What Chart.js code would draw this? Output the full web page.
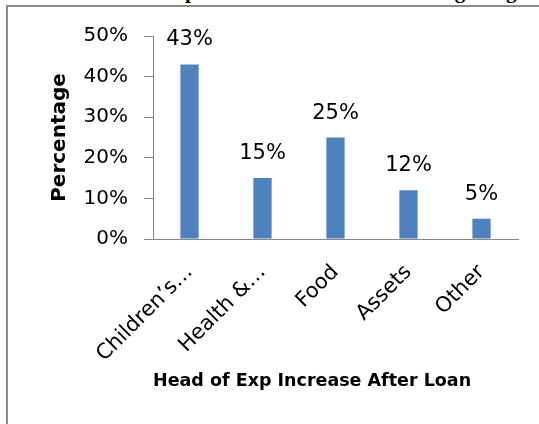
<!DOCTYPE html>
<html>
<head>
<meta charset="utf-8">
<script src="https://cdn.jsdelivr.net/npm/chart.js@4/dist/chart.umd.min.js"></script>
<style>
  html, body { margin: 0; padding: 0; background: #fff; }
  #wrap { position: relative; width: 539px; height: 424px; overflow: hidden; }
  #heading { position: absolute; left: 0; top: 0; width: 539px; height: 5px; overflow: hidden; }
  #heading span {
    position: absolute; left: 20px; top: -19px; white-space: nowrap;
    font: bold 21px "Liberation Serif"; line-height: 20px; color: #000;
  }
  #frame { position: absolute; left: 6px; top: 5px; width: 600px; height: 500px;
    border-left: 2px solid #8a8a8a; border-top: 2px solid #8a8a8a; }
  #chart { position: absolute; left: 0; top: 0; }
</style>
</head>
<body>
<div id="wrap">
  <div id="heading"><span>Which Head of Exp of borrower Increased after getting Loan</span></div>
  <div id="frame"></div>
  <canvas id="chart" width="539" height="424"></canvas>
</div>
<script>
// share of borrowers per expense head (%)
const heads = ['Children’s…', 'Health &…', 'Food', 'Assets', 'Other'];
const shares = [43, 15, 25, 12, 5];
const yTicks = [0, 10, 20, 30, 40, 50];

const axisGray = '#868686';

// value text above each bar
const valueLabels = {
  id: 'valueLabels',
  afterDatasetsDraw(chart) {
    const ctx = chart.ctx;
    const meta = chart.getDatasetMeta(0);
    ctx.save();
    ctx.font = '21px "DejaVu Sans"';
    ctx.fillStyle = '#000';
    ctx.textAlign = 'center';
    ctx.textBaseline = 'alphabetic';
    meta.data.forEach((bar, i) => {
      ctx.fillText(shares[i] + '%', bar.x, bar.y - 19);
    });
    ctx.restore();
  }
};

new Chart(document.getElementById('chart'), {
  type: 'bar',
  data: {
    labels: heads,
    datasets: [{
      data: shares,
      backgroundColor: '#4F81BD',
      borderWidth: 0,
      barPercentage: 0.5,
      categoryPercentage: 0.5
    }]
  },
  options: {
    responsive: false,
    animation: false,
    layout: { padding: { top: 36, right: 21, bottom: 0, left: 0 } },
    plugins: {
      legend: { display: false },
      tooltip: { enabled: false }
    },
    scales: {
      x: {
        afterFit(scale) { scale.height = 185; },
        grid: { display: false, drawTicks: false },
        border: { display: true, color: axisGray, width: 1 },
        ticks: {
          color: '#000',
          font: { family: 'DejaVu Sans', size: 21 },
          minRotation: 45,
          maxRotation: 45,
          padding: 21,
          autoSkip: false
        },
        title: {
          display: true,
          text: 'Head of Exp Increase After Loan',
          align: 'start',
          color: '#000',
          font: { family: 'DejaVu Sans', size: 17.5, weight: 'bold' },
          padding: { top: 0, bottom: 32 }
        }
      },
      y: {
        min: 0,
        max: 50,
        afterFit(scale) { scale.width = 153; },
        afterBuildTicks(scale) { scale.ticks = yTicks.map(v => ({ value: v })); },
        grid: { drawOnChartArea: false, tickLength: 9, color: axisGray },
        border: { color: axisGray, width: 1 },
        ticks: {
          color: '#000',
          font: { family: 'DejaVu Sans', size: 20 },
          padding: 16,
          callback: v => v + '%'
        },
        title: {
          display: true,
          text: 'Percentage',
          color: '#000',
          font: { family: 'DejaVu Sans', size: 20, weight: 'bold' },
          padding: { top: 48, bottom: 0 }
        }
      }
    }
  },
  plugins: [valueLabels]
});
</script>
</body>
</html>
